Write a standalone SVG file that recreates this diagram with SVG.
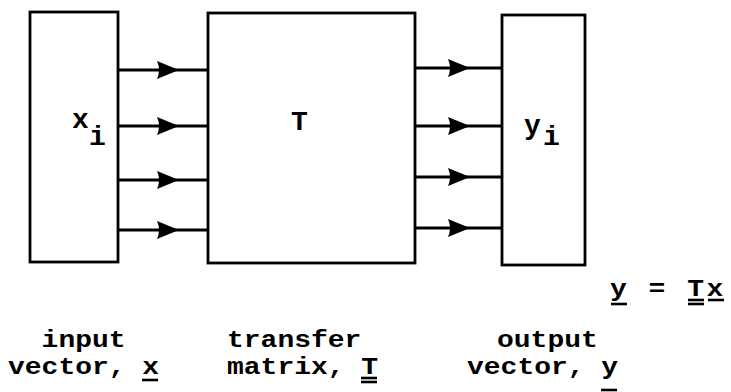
<svg xmlns="http://www.w3.org/2000/svg" width="731" height="392" viewBox="0 0 731 392">
<style>
.box{fill:#fff;stroke:#000;stroke-width:2.8}
.wire{fill:none;stroke:#000;stroke-width:2.8;marker-mid:url(#head)}
.t{font-family:"Liberation Mono","Courier New",monospace;font-weight:bold;font-size:28px;fill:#000}
.ul{stroke:#000;stroke-width:2.6}
</style>
<defs>
<marker id="head" markerUnits="userSpaceOnUse" markerWidth="30" markerHeight="24" viewBox="-26 -12 30 24" refX="0" refY="0" orient="auto" overflow="visible">
<path d="M3,0 L-19,-9 Q-15,0 -19,9 Z" fill="#000"/>
</marker>
</defs>
<rect width="731" height="392" fill="#fff"/>
<g id="connectors">
<path class="wire" d="M118,70 L176,70 L208,70"/>
<path class="wire" d="M118,126 L176,126 L208,126"/>
<path class="wire" d="M118,180 L176,180 L208,180"/>
<path class="wire" d="M118,230 L176,230 L208,230"/>
<path class="wire" d="M415,68 L467,68 L502,68"/>
<path class="wire" d="M415,126 L467,126 L502,126"/>
<path class="wire" d="M415,177 L467,177 L502,177"/>
<path class="wire" d="M415,228 L467,228 L502,228"/>
</g>
<g id="input">
<rect class="box" x="30" y="12" width="88" height="250"/>
<text class="t" x="72" y="128">x</text>
<text class="t" x="89" y="145" font-size="24">i</text>
</g>
<g id="transfer">
<rect class="box" x="208" y="13" width="207" height="250"/>
<text class="t" x="291" y="130">T</text>
</g>
<g id="output">
<rect class="box" x="502" y="15" width="83" height="250"/>
<text class="t" x="524" y="134">y</text>
<text class="t" x="543" y="145" font-size="24">i</text>
</g>
<g id="labels">
<text class="t" transform="translate(8,347) scale(1,0.84)" xml:space="preserve">  input</text>
<text class="t" transform="translate(8,374) scale(1,0.84)">vector, x</text>
<line class="ul" x1="142" y1="380" x2="158" y2="380"/>
<text class="t" transform="translate(227,347) scale(1,0.84)">transfer</text>
<text class="t" transform="translate(227,374) scale(1,0.84)">matrix, T</text>
<line class="ul" x1="361" y1="378" x2="377" y2="378"/>
<line class="ul" x1="361" y1="382" x2="377" y2="382"/>
<text class="t" transform="translate(497,347) scale(1,0.84)">output</text>
<text class="t" transform="translate(467,374) scale(1,0.84)">vector, y</text>
<line class="ul" x1="601" y1="390" x2="617" y2="390"/>
<text class="t" transform="translate(610,296) scale(1,0.84)" letter-spacing="2.5">y = Tx</text>
<line class="ul" x1="611" y1="304" x2="627" y2="304"/>
<line class="ul" x1="688" y1="300" x2="704" y2="300"/>
<line class="ul" x1="688" y1="304" x2="704" y2="304"/>
<line class="ul" x1="708" y1="300" x2="724" y2="300"/>
</g>
</svg>
